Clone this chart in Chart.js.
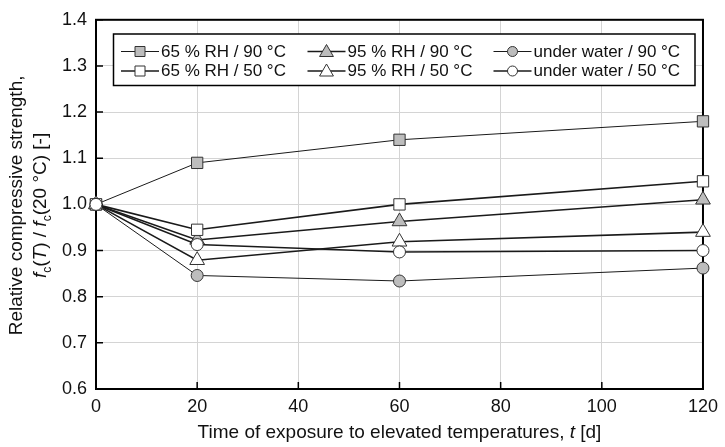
<!DOCTYPE html>
<html><head><meta charset="utf-8">
<script src="https://cdn.jsdelivr.net/npm/chart.js@4/dist/chart.umd.min.js"></script>
<style>html,body{margin:0;padding:0;background:#fff}</style>
</head><body>
<canvas id="c" width="725" height="447" style="width:725px;height:447px;display:block"></canvas>
<script>
// ---- data ----
const times = [0, 20, 60, 120];
const rh65at90 = [1.0, 1.09, 1.14, 1.18];
const rh95at90 = [1.0, 0.923, 0.963, 1.01];
const waterAt90 = [1.0, 0.846, 0.834, 0.862];
const rh65at50 = [1.0, 0.945, 1.0, 1.05];
const rh95at50 = [1.0, 0.879, 0.919, 0.94];
const waterAt50 = [1.0, 0.913, 0.897, 0.90];
const seriesLabels = ['65 % RH / 90 °C', '95 % RH / 90 °C', 'under water / 90 °C',
                      '65 % RH / 50 °C', '95 % RH / 50 °C', 'under water / 50 °C'];
const xTickValues = [0, 20, 40, 60, 80, 100, 120];
const yTickValues = [0.6, 0.7, 0.8, 0.9, 1.0, 1.1, 1.2, 1.3, 1.4];

const FONT = '"Liberation Sans", Arial, Helvetica, sans-serif';
const GRAY = '#bdbdbd';
const MB = '#333333';
const LINE = '#1a1a1a';

const styles = [
  {data: rh65at90, shape: 'rect', fill: GRAY, lw: 1, r: 8},
  {data: rh95at90, shape: 'triangle', fill: GRAY, lw: 1.6, r: 8.5},
  {data: waterAt90, shape: 'circle', fill: GRAY, lw: 1, r: 6},
  {data: rh65at50, shape: 'rect', fill: '#ffffff', lw: 1.6, r: 8},
  {data: rh95at50, shape: 'triangle', fill: '#ffffff', lw: 1.6, r: 8.5},
  {data: waterAt50, shape: 'circle', fill: '#ffffff', lw: 1.6, r: 6}
];

const datasets = styles.map((s, i) => ({
  label: seriesLabels[i],
  data: times.map((t, k) => ({x: t, y: s.data[k]})),
  borderColor: LINE,
  borderWidth: s.lw,
  pointStyle: s.shape,
  pointRadius: s.r,
  pointBackgroundColor: s.fill,
  pointBorderColor: MB,
  pointBorderWidth: 1,
  clip: false,
  tension: 0
})).reverse(); // first series in list drawn on top -> under water / 50 °C on top

function drawRich(ctx, parts, x, y, size) {
  const subSize = Math.round(size * 0.62);
  const fontOf = p => (p.italic ? 'italic ' : '') + (p.sub ? subSize : size) + 'px ' + FONT;
  let w = 0;
  parts.forEach(p => { ctx.font = fontOf(p); w += ctx.measureText(p.t).width; });
  let cx = x - w / 2;
  ctx.textAlign = 'left';
  ctx.textBaseline = 'alphabetic';
  parts.forEach(p => {
    ctx.font = fontOf(p);
    ctx.fillText(p.t, cx, y + (p.sub ? size * 0.28 : 0));
    cx += ctx.measureText(p.t).width;
  });
}

function drawMarker(ctx, shape, x, y, r, fill) {
  ctx.beginPath();
  if (shape === 'rect') {
    ctx.rect(x - r, y - r, 2 * r, 2 * r);
  } else if (shape === 'circle') {
    ctx.arc(x, y, r, 0, Math.PI * 2);
  } else {
    ctx.moveTo(x, y - r);
    ctx.lineTo(x + r * 0.866, y + r * 0.5);
    ctx.lineTo(x - r * 0.866, y + r * 0.5);
    ctx.closePath();
  }
  ctx.fillStyle = fill;
  ctx.fill();
  ctx.lineWidth = 1;
  ctx.strokeStyle = MB;
  ctx.stroke();
}

const framePlugin = {
  id: 'frame',
  beforeDatasetsDraw(chart) {
    const {ctx, chartArea: a, scales} = chart;
    ctx.save();
    ctx.strokeStyle = '#000';
    ctx.lineWidth = 2;
    ctx.strokeRect(a.left, a.top, a.right - a.left, a.bottom - a.top);
    ctx.lineWidth = 1.5;
    ctx.beginPath();
    yTickValues.forEach(v => {
      const y = scales.y.getPixelForValue(v);
      ctx.moveTo(a.left, y); ctx.lineTo(a.left + 7, y);
    });
    xTickValues.forEach(v => {
      const x = scales.x.getPixelForValue(v);
      ctx.moveTo(x, a.bottom); ctx.lineTo(x, a.bottom - 7);
    });
    ctx.stroke();
    ctx.restore();
  },
  afterDraw(chart) {
    const {ctx, chartArea: a} = chart;
    ctx.save();
    ctx.fillStyle = '#111';
    // x title
    drawRich(ctx, [
      {t: 'Time of exposure to elevated temperatures, '},
      {t: 't', italic: true},
      {t: ' [d]'}
    ], (a.left + a.right) / 2, 438, 19);
    // y title
    const cy = (a.top + a.bottom) / 2 + 1;
    ctx.save();
    ctx.translate(22, cy);
    ctx.rotate(-Math.PI / 2);
    drawRich(ctx, [{t: 'Relative compressive strength,'}], 0, 0, 19);
    ctx.restore();
    ctx.save();
    ctx.translate(46, cy);
    ctx.rotate(-Math.PI / 2);
    drawRich(ctx, [
      {t: 'f', italic: true}, {t: 'c', sub: true}, {t: '('}, {t: 'T', italic: true},
      {t: ') / '}, {t: 'f', italic: true}, {t: 'c', sub: true}, {t: '(20 °C) [-]'}
    ], 0, 0, 19);
    ctx.restore();

    // legend
    const L = 113.5, T = 34, R = 695, B = 85.5;
    ctx.fillStyle = '#fff';
    ctx.fillRect(L, T, R - L, B - T);
    ctx.strokeStyle = '#000';
    ctx.lineWidth = 1.5;
    ctx.strokeRect(L, T, R - L, B - T);
    const colX = [121, 307.5, 493.5];
    const rowY = [51.5, 71];
    styles.forEach((s, i) => {
      const col = i % 3, row = Math.floor(i / 3);
      const x0 = colX[col], y0 = rowY[row];
      ctx.strokeStyle = LINE;
      ctx.lineWidth = s.lw;
      ctx.beginPath();
      ctx.moveTo(x0, y0); ctx.lineTo(x0 + 38, y0);
      ctx.stroke();
      const r = s.shape === 'rect' ? 5 : (s.shape === 'circle' ? 5 : 8);
      drawMarker(ctx, s.shape, x0 + 19, s.shape === 'triangle' ? y0 + 1 : y0, r, s.fill);
      ctx.fillStyle = '#111';
      ctx.font = '17px ' + FONT;
      ctx.textAlign = 'left';
      ctx.textBaseline = 'middle';
      ctx.fillText(seriesLabels[i], x0 + 40, y0 + 0.5);
    });
    ctx.restore();
  }
};

new Chart(document.getElementById('c'), {
  type: 'line',
  data: {datasets},
  options: {
    responsive: false,
    animation: false,
    events: [],
    devicePixelRatio: 1,
    layout: {padding: {top: 16, right: 17, left: 0, bottom: 0}},
    plugins: {legend: {display: false}, tooltip: {enabled: false}, title: {display: false}},
    scales: {
      x: {
        type: 'linear', min: 0, max: 120,
        afterBuildTicks: s => { s.ticks = xTickValues.map(v => ({value: v})); },
        afterFit: s => { s.height = 58; },
        grid: {color: '#d4d4d4', lineWidth: 1, drawTicks: false},
        border: {display: false},
        ticks: {padding: 7, color: '#111', font: {family: FONT, size: 18}, maxRotation: 0,
                callback: v => String(v)}
      },
      y: {
        type: 'linear', min: 0.6, max: 1.4,
        afterBuildTicks: s => { s.ticks = yTickValues.map(v => ({value: v})); },
        afterFit: s => { s.width = 96; },
        grid: {color: '#d4d4d4', lineWidth: 1, drawTicks: false},
        border: {display: false},
        ticks: {padding: 9, color: '#111', font: {family: FONT, size: 18},
                callback: v => Number(v).toFixed(1)}
      }
    }
  },
  plugins: [framePlugin]
});
</script>
</body></html>
